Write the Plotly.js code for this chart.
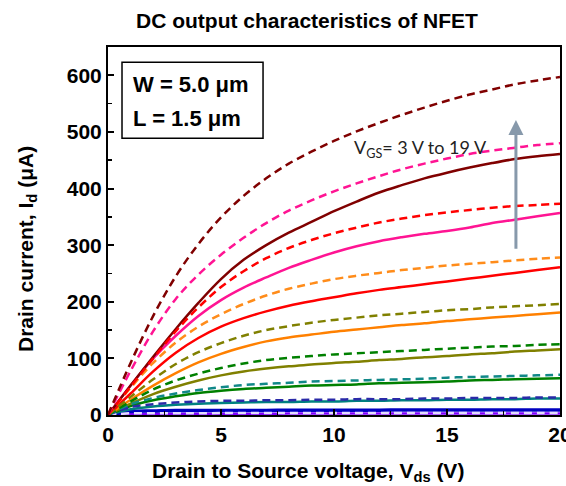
<!DOCTYPE html>
<html>
<head>
<meta charset="utf-8">
<script src="https://cdn.plot.ly/plotly-3.0.1.min.js"></script>
<style>
  html, body { margin: 0; padding: 0; background: #fff; }
  #chart { width: 566px; height: 486px; }
</style>
</head>
<body>
<div id="chart"></div>
<script>
// Drain-source voltage sweep (V)
const vds = [0, 1, 2, 3, 4, 5, 6, 7, 8, 9, 10, 11, 12, 13, 14, 15, 16, 17, 18, 19, 20];

// Gate voltages of the family of curves
const vgsSteps = ['3 V', '5 V', '7 V', '9 V', '11 V', '13 V', '15 V', '17 V', '19 V'];

// Drain current (µA), solid curves
const id3_solid  = [0, 1.5, 2, 2, 2, 2, 2, 2, 2.5, 2.5, 2.5, 2.5, 2.5, 2.5, 2.5, 2.5, 2.5, 2.5, 2.5, 2.5, 2.5];
const id5_solid  = [0, 6, 7, 8, 8, 8, 8, 8, 8.5, 8.5, 8.5, 8.5, 8.5, 9, 9, 9, 9, 9, 9, 9, 9];
const id7_solid  = [0, 10, 15, 18, 20, 21, 22, 23, 23, 24, 24, 25, 25, 26, 26, 27, 27, 28, 28, 29, 29];
const id9_solid  = [0, 16, 26, 33, 39, 43, 46, 48, 50, 52, 53, 54, 56, 57, 58, 59, 61, 62, 63, 64, 65];
const id11_solid = [0, 20, 37, 50, 61, 70, 77, 82, 86, 89, 92, 94, 97, 99, 102, 104, 107, 109, 112, 114, 116];
const id13_solid = [0, 27, 52, 74, 93, 108, 120, 130, 137, 142, 147, 151, 155, 159, 162, 166, 169, 172, 175, 178, 181];
const id15_solid = [0, 38, 77, 110, 136, 156, 171, 183, 193, 201, 208, 215, 221, 226, 231, 236, 241, 246, 251, 256, 261];
const id17_solid = [0, 52, 100, 140, 175, 203, 225, 243, 260, 274, 287, 298, 307, 314, 320, 325, 331, 339, 345, 351, 357];
const id19_solid = [0, 52, 103, 152, 198, 240, 274, 300, 322, 341, 360, 377, 393, 406, 418, 428, 437, 445, 452, 457, 461];

// Drain current (µA), dashed curves
const id3_dash  = [0, 3, 3, 3, 3, 3.5, 3.5, 3.5, 3.5, 3.5, 3.5, 3.5, 3.5, 3.5, 3.5, 3.5, 3.5, 3.5, 3.5, 3.5, 3.5];
const id5_dash  = [0, 14, 19, 22, 24, 25, 25, 26, 26, 27, 27, 28, 28, 28, 29, 29, 30, 30, 30, 31, 31];
const id7_dash  = [0, 19, 30, 38, 44, 49, 53, 55, 57, 59, 60, 61, 62, 63, 64, 66, 67, 68, 69, 70, 71];
const id9_dash  = [0, 24, 45, 61, 73, 83, 91, 97, 101, 104, 107, 109, 111, 113, 115, 117, 119, 121, 122, 124, 125];
const id11_dash = [0, 32, 63, 90, 111, 127, 140, 150, 157, 163, 168, 172, 176, 179, 182, 185, 187, 190, 192, 194, 196];
const id13_dash = [0, 48, 92, 128, 156, 178, 196, 211, 223, 232, 240, 246, 251, 256, 260, 264, 267, 270, 273, 276, 278];
const id15_dash = [0, 50, 100, 148, 190, 226, 254, 277, 295, 309, 321, 331, 340, 347, 353, 358, 362, 366, 369, 371, 373];
const id17_dash = [0, 78, 148, 205, 248, 283, 313, 339, 361, 379, 395, 409, 422, 434, 444, 453, 461, 467, 472, 477, 480];
const id19_dash = [0, 92, 175, 245, 302, 349, 387, 418, 444, 465, 484, 501, 516, 530, 543, 555, 566, 575, 584, 591, 597];

const solidSets = [id3_solid, id5_solid, id7_solid, id9_solid, id11_solid, id13_solid, id15_solid, id17_solid, id19_solid];
const dashSets  = [id3_dash, id5_dash, id7_dash, id9_dash, id11_dash, id13_dash, id15_dash, id17_dash, id19_dash];

// One colour per gate voltage, low to high
const solidColors = ['#8000ff', '#0000c0', '#008080', '#008000', '#808000', '#ff8000', '#ff0000', '#ff1493', '#800000'];
const dashColors  = ['#e4dcff', '#2a2aa8', '#108888', '#008000', '#808000', '#ff8c1a', '#ff0000', '#ff1493', '#800000'];

const traces = [];
solidSets.forEach((ys, i) => {
  traces.push({
    x: vds, y: ys, type: 'scatter', mode: 'lines',
    name: 'V_GS = ' + vgsSteps[i],
    line: { color: solidColors[i], width: i === 1 ? 3.5 : 2.5, shape: 'spline', smoothing: 1 },
    hoverinfo: 'skip'
  });
});
dashSets.forEach((ys, i) => {
  traces.push({
    x: vds, y: ys, type: 'scatter', mode: 'lines',
    name: 'V_GS = ' + vgsSteps[i] + ' (dashed)',
    line: { color: dashColors[i], width: 2.5, dash: '8px,5px', shape: 'spline', smoothing: 1 },
    hoverinfo: 'skip'
  });
});

const FONT = 'Liberation Sans, Arial, sans-serif';

const axisCommon = {
  showgrid: false,
  zeroline: false,
  showline: true,
  linecolor: '#000',
  linewidth: 2,
  mirror: true,
  ticks: 'inside',
  ticklen: 6,
  tickwidth: 2,
  tickcolor: '#000',
  tickfont: { family: FONT, size: 21, color: '#000', weight: 'bold' },
  ticklabeloverflow: 'allow',
  automargin: false,
  fixedrange: true
};

const layout = {
  width: 566,
  height: 486,
  margin: { l: 108, r: 6, t: 47, b: 71 },
  paper_bgcolor: '#fff',
  plot_bgcolor: '#fff',
  showlegend: false,
  title: {
    text: '<b>DC output characteristics of NFET</b>',
    font: { family: FONT, size: 21, color: '#000' },
    x: 307 / 566, xref: 'container', xanchor: 'center',
    y: 1 - 21 / 486, yref: 'container', yanchor: 'middle'
  },
  xaxis: Object.assign({}, axisCommon, {
    range: [0, 20],
    tickmode: 'linear', tick0: 0, dtick: 5,
    minor: { dtick: 2.5, ticks: 'inside', ticklen: 4, tickwidth: 1.5, tickcolor: '#000', showgrid: false }
  }),
  yaxis: Object.assign({}, axisCommon, {
    range: [0, 650],
    tickmode: 'linear', tick0: 0, dtick: 100,
    minor: { dtick: 50, ticks: 'inside', ticklen: 4, tickwidth: 1.5, tickcolor: '#000', showgrid: false }
  }),
  shapes: [
    { type: 'rect', xref: 'x', yref: 'y', x0: 0.62, x1: 6.86, y0: 489, y1: 623,
      line: { color: '#000', width: 1.5 }, fillcolor: 'rgba(255,255,255,0)' }
  ],
  annotations: [
    { xref: 'x', yref: 'y', x: 1.0, y: 583, xanchor: 'left', yanchor: 'middle', showarrow: false,
      text: '<b>W = 5.0 μm</b>', font: { family: FONT, size: 22, color: '#000' } },
    { xref: 'x', yref: 'y', x: 1.0, y: 524, xanchor: 'left', yanchor: 'middle', showarrow: false,
      text: '<b>L = 1.5 μm</b>', font: { family: FONT, size: 22, color: '#000' } },
    { xref: 'x', yref: 'y', x: 10.8, y: 470, xanchor: 'left', yanchor: 'middle', showarrow: false,
      text: 'V<sub>GS</sub>= 3 V to 19 V', font: { family: 'Lato, sans-serif', size: 18, color: '#222' } },
    { xref: 'x', yref: 'y', x: 18.05, y: 521, axref: 'x', ayref: 'y', ax: 18.05, ay: 291,
      text: '', showarrow: true, arrowhead: 2, arrowsize: 1, arrowwidth: 3, arrowcolor: '#8799ab',
      standoff: 0, startstandoff: 0 },
    { xref: 'paper', yref: 'paper', x: (308 - 108) / 452, y: (415 - 472) / 368,
      xanchor: 'center', yanchor: 'middle', showarrow: false,
      text: '<b>Drain to Source voltage, V<sub>ds</sub> (V)</b>',
      font: { family: FONT, size: 21, color: '#000' } },
    { xref: 'paper', yref: 'paper', x: (27 - 108) / 452, y: (415 - 249) / 368,
      xanchor: 'center', yanchor: 'middle', showarrow: false, textangle: -90,
      text: '<b>Drain current, I<sub>d</sub> (μA)</b>',
      font: { family: FONT, size: 21, color: '#000' } }
  ]
};

Plotly.newPlot('chart', traces, layout, { staticPlot: true, displayModeBar: false });
</script>
</body>
</html>
